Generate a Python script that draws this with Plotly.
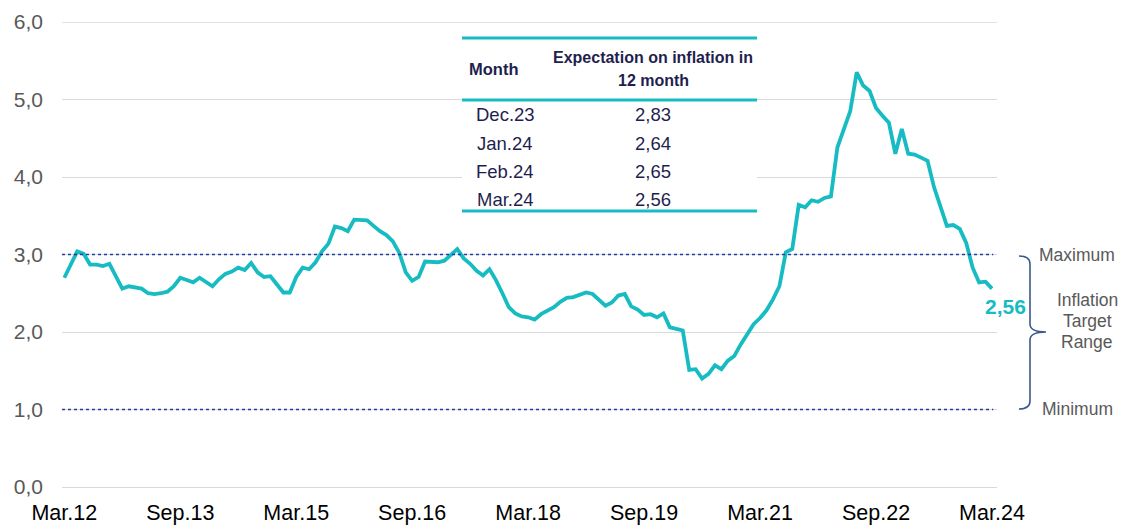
import pandas as pd
import plotly.graph_objects as go

# ---------------- data ----------------
months = [p.strftime("%b.%y") for p in pd.period_range("2012-03", periods=145, freq="M")]
expectation = [
    2.70, 2.88, 3.04, 3.01, 2.87, 2.87, 2.85, 2.88, 2.72, 2.56,
    2.59, 2.58, 2.56, 2.50, 2.49, 2.50, 2.52, 2.59, 2.70, 2.67,
    2.64, 2.70, 2.64, 2.59, 2.68, 2.75, 2.78, 2.83, 2.80, 2.89,
    2.77, 2.71, 2.72, 2.61, 2.51, 2.51, 2.71, 2.83, 2.81, 2.90,
    3.04, 3.14, 3.36, 3.34, 3.30, 3.45, 3.45, 3.44, 3.37, 3.30,
    3.25, 3.17, 3.02, 2.77, 2.66, 2.71, 2.91, 2.90, 2.90, 2.92,
    2.99, 3.07, 2.95, 2.88, 2.79, 2.73, 2.81, 2.67, 2.50, 2.32,
    2.24, 2.20, 2.19, 2.16, 2.23, 2.28, 2.32, 2.39, 2.44, 2.45,
    2.48, 2.51, 2.49, 2.41, 2.34, 2.38, 2.47, 2.49, 2.33, 2.29,
    2.22, 2.23, 2.19, 2.24, 2.06, 2.04, 2.02, 1.51, 1.52, 1.40,
    1.46, 1.57, 1.52, 1.63, 1.69, 1.84, 1.97, 2.10, 2.18, 2.28,
    2.42, 2.59, 3.03, 3.07, 3.64, 3.61, 3.70, 3.68, 3.73, 3.75,
    4.38, 4.60, 4.85, 5.35, 5.18, 5.11, 4.89, 4.79, 4.70, 4.30,
    4.62, 4.30, 4.29, 4.25, 4.21, 3.87, 3.61, 3.37, 3.38, 3.33,
    3.15, 2.83, 2.64, 2.65, 2.56,
]
tick_labels = ["Mar.12", "Sep.13", "Mar.15", "Sep.16", "Mar.18",
               "Sep.19", "Mar.21", "Sep.22", "Mar.24"]
target_max = 3.0
target_min = 1.0
table_months = ["Dec.23", "Jan.24", "Feb.24", "Mar.24"]
table_values = ["2,83", "2,64", "2,65", "2,56"]
last_label = "2,56"

# ---------------- style ----------------
W, H = 1125, 526
L, R, T, B = 62, 128, 22, 39
PW, PH = W - L - R, H - T - B
TEAL = "#17BCC3"
NAVY = "#1F1F4F"
GRAY = "#595959"
DOTBLUE = "#1E3CA8"
BRACE = "#3B5A8C"
FONT = "Liberation Sans, Arial, sans-serif"


def px(x):
    return (x - L) / PW


def py(y):
    return (H - B - y) / PH


fig = go.Figure()
fig.add_trace(go.Scatter(
    x=months, y=expectation, mode="lines",
    line=dict(color=TEAL, width=3.8), hoverinfo="x+y", showlegend=False,
))

shapes = []
# top gridline (kept visible at the range edge)
shapes.append(dict(type="line", xref="paper", yref="y", x0=0, x1=1, y0=6, y1=6,
                   line=dict(color="#D9D9D9", width=1.3), layer="below"))
# target range dotted lines
for v in (target_max, target_min):
    shapes.append(dict(type="line", xref="paper", yref="y", x0=0, x1=0.996,
                       y0=v, y1=v, line=dict(color=DOTBLUE, width=1.3, dash="dot"),
                       layer="above"))
# table background + rules
shapes.append(dict(type="rect", xref="paper", yref="paper",
                   x0=px(462), x1=px(757), y0=py(214), y1=py(36),
                   fillcolor="white", line=dict(width=0), layer="above"))
for yy in (38, 100, 211):
    shapes.append(dict(type="line", xref="paper", yref="paper",
                       x0=px(462), x1=px(757), y0=py(yy), y1=py(yy),
                       line=dict(color=TEAL, width=2.8), layer="above"))
# brace
pts = [
    ("M", [(1019, 256)]),
    ("Q", [(1030, 256), (1030, 264)]),
    ("L", [(1030, 324)]),
    ("Q", [(1030, 332), (1046, 332)]),
    ("Q", [(1030, 332), (1030, 340)]),
    ("L", [(1030, 401)]),
    ("Q", [(1030, 409), (1019, 409)]),
]
path = " ".join(cmd + " " + " ".join(f"{px(a):.5f},{py(b):.5f}" for a, b in p) for cmd, p in pts)
shapes.append(dict(type="path", xref="paper", yref="paper", path=path,
                   line=dict(color=BRACE, width=1.6)))

ann = []


def text(x, y, s, size, color, bold=False, xanchor="center"):
    ann.append(dict(xref="paper", yref="paper", x=px(x), y=py(y), text=(f"<b>{s}</b>" if bold else s),
                    showarrow=False, xanchor=xanchor, yanchor="middle",
                    font=dict(size=size, color=color, family=FONT)))


text(493, 69, "Month", 16.5, NAVY, bold=True)
text(653, 58, "Expectation on inflation in", 16, NAVY, bold=True)
text(653, 80, "12 month", 16, NAVY, bold=True)
for i, (m, v) in enumerate(zip(table_months, table_values)):
    yy = 115 + i * 28
    text(505, yy, m, 18.5, NAVY)
    text(653, yy, v, 18.5, NAVY)

text(1005, 306, last_label, 21, TEAL, bold=True)
text(1077, 255, "Maximum", 17.5, GRAY)
text(1077, 409, "Minimum", 17.5, GRAY)
text(1087, 300, "Inflation", 17.5, GRAY)
text(1087, 321, "Target", 17.5, GRAY)
text(1087, 342, "Range", 17.5, GRAY)

fig.update_layout(
    template="none",
    width=W, height=H, autosize=False,
    margin=dict(l=L, r=R, t=T, b=B, pad=0, autoexpand=False),
    paper_bgcolor="white", plot_bgcolor="white",
    separators=",.",
    font=dict(family=FONT),
    shapes=shapes, annotations=ann,
    xaxis=dict(
        type="category", range=[-0.36, 144.78], automargin=False,
        tickmode="array", tickvals=tick_labels, ticktext=tick_labels,
        showgrid=False, zeroline=False, showline=False, ticks="",
        tickfont=dict(size=21.5, color="black", family=FONT),
        ticklabelstandoff=10,
    ),
    yaxis=dict(
        range=[0, 6], tickvals=[0, 1, 2, 3, 4, 5, 6], tickformat=".1f", automargin=False,
        showgrid=True, gridcolor="#D9D9D9", gridwidth=1.3,
        zeroline=True, zerolinecolor="#D9D9D9", zerolinewidth=1.3,
        showline=False, ticks="",
        tickfont=dict(size=21, color=GRAY, family=FONT),
        ticklabelstandoff=18,
    ),
)

fig.write_html("out.html", config={"displayModeBar": False},
               post_script="document.body.style.margin='0px';document.body.style.overflow='hidden';")
